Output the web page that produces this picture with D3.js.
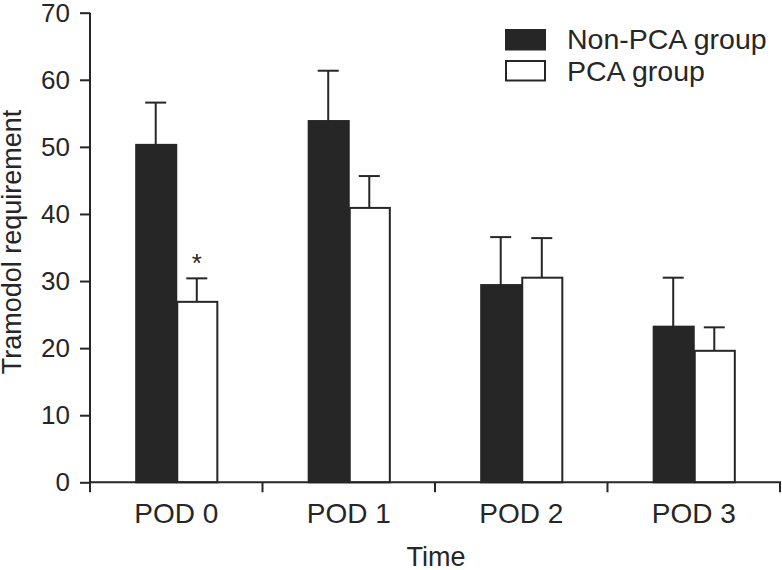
<!DOCTYPE html>
<html>
<head>
<meta charset="utf-8">
<script src="https://cdn.jsdelivr.net/npm/d3@7"></script>
<style>
  html, body { margin: 0; padding: 0; background: #fff; }
  svg { display: block; }
  text { font-family: "Liberation Sans", Arial, Helvetica, sans-serif; fill: #262626; }
</style>
</head>
<body>
<svg id="chart" width="782" height="570"></svg>
<script>
const categories = ["POD 0", "POD 1", "POD 2", "POD 3"];
const groups = ["Non-PCA group", "PCA group"];
const nonPcaMean = [50.3, 53.85, 29.4, 23.2];
const nonPcaErr  = [6.3, 7.5, 7.15, 7.3];
const pcaMean    = [26.9, 40.9, 30.5, 19.6];
const pcaErr     = [3.5, 4.75, 5.9, 3.5];
const significant = [true, false, false, false];
const yTicks = [0, 10, 20, 30, 40, 50, 60, 70];

const ink = "#262626";
const svg = d3.select("#chart");

const y = d3.scaleLinear().domain([0, 70]).range([482.3, 12.7]);
const x0 = d3.scaleBand().domain(categories).range([90, 780]).paddingInner(0).paddingOuter(0);
const x1 = d3.scaleBand().domain(groups).range([0, x0.bandwidth()]).paddingInner(0).paddingOuter(1.1);

const data = [];
categories.forEach((c, i) => {
  data.push({cat: c, grp: groups[0], mean: nonPcaMean[i], err: nonPcaErr[i], sig: false});
  data.push({cat: c, grp: groups[1], mean: pcaMean[i], err: pcaErr[i], sig: significant[i]});
});
const fill = d => d.grp === groups[0] ? ink : "#ffffff";

// error bars (drawn first so bars sit on top)
const capW = 21;
const eb = svg.append("g");
data.forEach(d => {
  const cx = x0(d.cat) + x1(d.grp) + x1.bandwidth() / 2;
  eb.append("line").attr("x1", cx).attr("x2", cx)
    .attr("y1", y(d.mean)).attr("y2", y(d.mean + d.err))
    .attr("stroke", ink).attr("stroke-width", 2);
  eb.append("line").attr("x1", cx - capW / 2).attr("x2", cx + capW / 2)
    .attr("y1", y(d.mean + d.err)).attr("y2", y(d.mean + d.err))
    .attr("stroke", ink).attr("stroke-width", 2);
  if (d.sig) {
    svg.append("text").attr("x", cx).attr("y", y(d.mean + d.err) - 6)
      .attr("text-anchor", "middle").attr("font-size", 26).text("*");
  }
});

// bars
svg.append("g").selectAll("rect").data(data).join("rect")
  .attr("x", d => x0(d.cat) + x1(d.grp) + 1)
  .attr("y", d => y(d.mean))
  .attr("width", x1.bandwidth() - 1)
  .attr("height", d => y(0) - y(d.mean))
  .attr("fill", fill)
  .attr("stroke", ink).attr("stroke-width", 2);

// y axis
const yAxis = svg.append("g").attr("transform", "translate(90,0)")
  .call(d3.axisLeft(y).tickValues(yTicks).tickSize(10).tickPadding(10));
yAxis.select(".domain").attr("d", `M0,${y(70)}V${y(0)}`).attr("stroke", ink).attr("stroke-width", 2);
yAxis.selectAll(".tick line").attr("stroke", ink).attr("stroke-width", 2);
yAxis.selectAll(".tick text").attr("font-size", 26).attr("fill", ink)
  .style("font-family", '"Liberation Sans", Arial, sans-serif');

// x axis
const xAxisG = svg.append("g").attr("transform", `translate(0,${y(0)})`);
xAxisG.append("line").attr("x1", 89).attr("x2", 781).attr("y1", 0).attr("y2", 0)
  .attr("stroke", ink).attr("stroke-width", 2);
const boundaries = categories.map(c => x0(c)).concat([x0.range()[1]]);
xAxisG.selectAll("line.tk").data(boundaries).join("line").attr("class", "tk")
  .attr("x1", d => d).attr("x2", d => d).attr("y1", 0).attr("y2", 10)
  .attr("stroke", ink).attr("stroke-width", 2);
xAxisG.selectAll("text.cat").data(categories).join("text").attr("class", "cat")
  .attr("x", d => x0(d) + x0.bandwidth() / 2).attr("y", 40.5)
  .attr("text-anchor", "middle").attr("font-size", 28).text(d => d);

// axis titles
svg.append("text").attr("x", 436).attr("y", 566).attr("text-anchor", "middle")
  .attr("font-size", 27).text("Time");
svg.append("text").attr("transform", "translate(21,242) rotate(-90)")
  .attr("text-anchor", "middle").attr("font-size", 27).text("Tramodol requirement");

// legend
const lg = svg.append("g");
groups.forEach((g, i) => {
  lg.append("rect").attr("x", 506).attr("y", 30 + i * 31).attr("width", 39).attr("height", 19.5)
    .attr("fill", i === 0 ? ink : "#fff").attr("stroke", ink).attr("stroke-width", 2);
  lg.append("text").attr("x", 567).attr("y", 49 + i * 31.5).attr("font-size", 28.5).text(g);
});
</script>
</body>
</html>
